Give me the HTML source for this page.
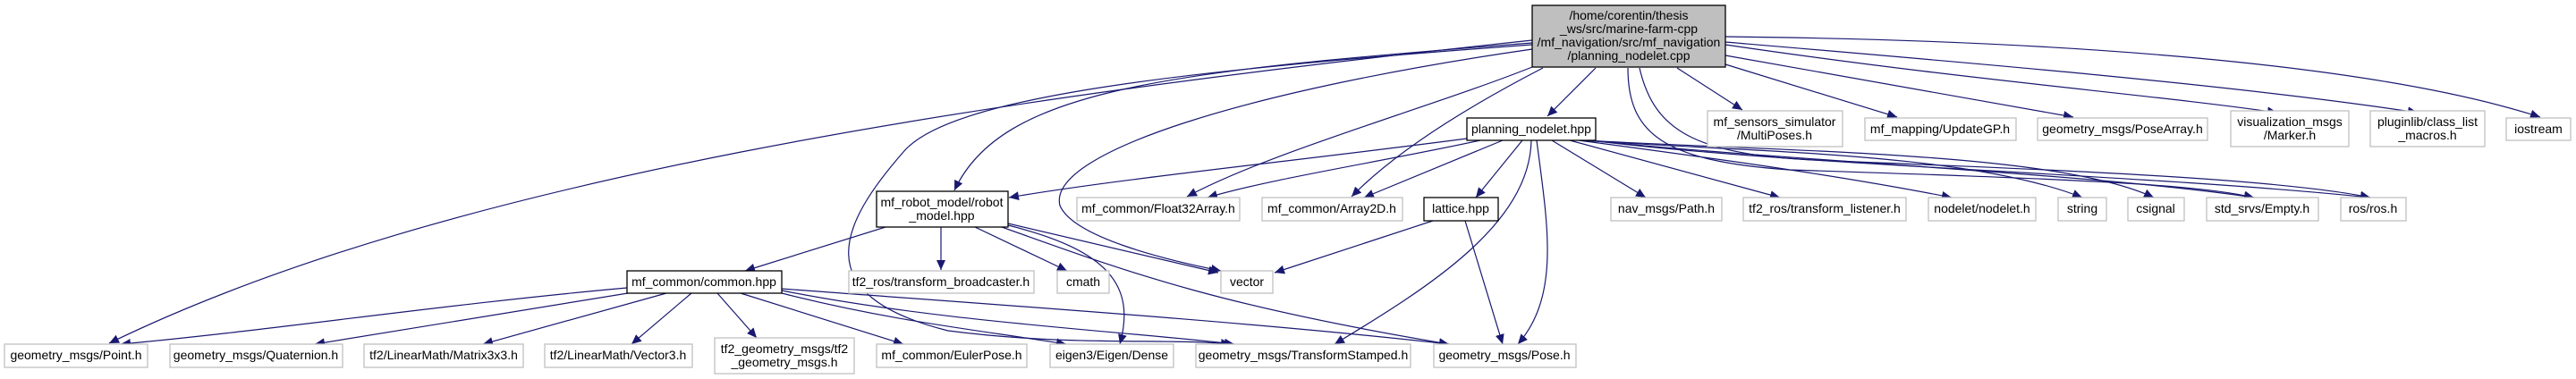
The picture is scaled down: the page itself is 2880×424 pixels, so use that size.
<!DOCTYPE html>
<html><head><meta charset="utf-8"><style>
html,body{margin:0;padding:0;background:#fff}
svg{display:block}
text{font-family:"Liberation Sans",sans-serif;font-size:14px;fill:#000;text-anchor:middle}
.g{fill:#fff;stroke:#c0c0c0;stroke-width:1.3}
.b{fill:#fff;stroke:#000;stroke-width:1.3}
.e{fill:none;stroke:#191970;stroke-width:1.2}
</style></head><body>
<svg width="2880" height="424" viewBox="0 0 2880 424" xmlns="http://www.w3.org/2000/svg">
<defs><marker id="a" markerUnits="userSpaceOnUse" markerWidth="12" markerHeight="10" refX="11" refY="5" orient="auto"><path d="M0,0 L11,5 L0,10 z" fill="#191970"/></marker></defs>
<g class="e" marker-end="url(#a)">
<path d="M1713,45 C1100,110 500,200 122,384"/>
<path d="M1713,48 C1300,80 1120,100 1067,213"/>
<path d="M1713,50 C1300,80 1060,110 1010,170 C940,250 900,330 1060,370 C1200,388 1300,378 1376,385"/>
<path d="M1713,55 C1400,100 1170,170 1185,230 C1200,265 1300,290 1365,303"/>
<path d="M1713,75 C1600,120 1420,170 1327,220"/>
<path d="M1725,76 C1640,120 1560,170 1511,220"/>
<path d="M1784,76 L1730,130"/>
<path d="M1820,76 C1820,150 1860,180 2000,190 C2300,200 2450,205 2520,221"/>
<path d="M1833,76 C1850,150 1900,175 2050,180 C2300,190 2550,200 2650,221"/>
<path d="M1875,76 L1948,123"/>
<path d="M1929,72 L2121,131"/>
<path d="M1929,62 L2318,131"/>
<path d="M1929,50 C2200,90 2400,105 2546,126"/>
<path d="M1929,47 C2200,70 2500,95 2703,126"/>
<path d="M1929,41 C2300,45 2650,70 2840,131"/>
<path d="M1640,155 C1450,180 1250,200 1128,221"/>
<path d="M1655,157 C1550,180 1420,200 1350,221"/>
<path d="M1680,157 L1525,221"/>
<path d="M1702,157 L1650,221"/>
<path d="M1712,157 C1710,250 1600,320 1492,385"/>
<path d="M1718,157 C1730,250 1745,330 1697,385"/>
<path d="M1735,157 L1840,221"/>
<path d="M1755,157 L1990,221"/>
<path d="M1765,157 C1900,175 2050,195 2182,221"/>
<path d="M1768,157 C1950,170 2200,170 2328,221"/>
<path d="M1772,157 C2000,170 2300,170 2408,221"/>
<path d="M1775,157 C2000,180 2350,195 2520,221"/>
<path d="M1778,157 C2000,185 2400,195 2650,221"/>
<path d="M990,254 L833,303"/>
<path d="M1052,254 L1052,302"/>
<path d="M1090,254 L1193,303"/>
<path d="M1127,250 L1362,305"/>
<path d="M1127,252 C1240,280 1270,320 1252,385"/>
<path d="M1120,254 C1250,300 1350,340 1620,385"/>
<path d="M1602,247 L1425,305"/>
<path d="M1638,247 L1680,385"/>
<path d="M701,322 C500,340 300,370 135,385"/>
<path d="M702,328 L352,385"/>
<path d="M745,328 L540,385"/>
<path d="M773,328 L706,385"/>
<path d="M802,328 L846,378"/>
<path d="M828,328 L1010,385"/>
<path d="M874,328 C1000,360 1100,370 1192,385"/>
<path d="M874,325 C1050,360 1250,370 1380,385"/>
<path d="M874,323 C1100,340 1400,360 1620,385"/>
</g>
<rect x="1713" y="6" width="216" height="69" fill="#bfbfbf" stroke="#000" stroke-width="1.3"/>
<text x="1821" y="22">/home/corentin/thesis</text>
<text x="1821" y="37">_ws/src/marine-farm-cpp</text>
<text x="1821" y="52">/mf_navigation/src/mf_navigation</text>
<text x="1821" y="67">/planning_nodelet.cpp</text>

<rect class="b" x="1640" y="132" width="144" height="25"/><text x="1712" y="149">planning_nodelet.hpp</text>
<rect class="g" x="1909" y="124" width="151" height="40"/><text x="1984" y="141">mf_sensors_simulator</text><text x="1984" y="156">/MultiPoses.h</text>
<rect class="g" x="2085" y="132" width="169" height="25"/><text x="2169" y="149">mf_mapping/UpdateGP.h</text>
<rect class="g" x="2278" y="132" width="190" height="25"/><text x="2373" y="149">geometry_msgs/PoseArray.h</text>
<rect class="g" x="2494" y="124" width="132" height="40"/><text x="2560" y="141">visualization_msgs</text><text x="2560" y="156">/Marker.h</text>
<rect class="g" x="2650" y="124" width="128" height="40"/><text x="2714" y="141">pluginlib/class_list</text><text x="2714" y="156">_macros.h</text>
<rect class="g" x="2802" y="132" width="72" height="25"/><text x="2838" y="149">iostream</text>

<rect class="b" x="980" y="214" width="147" height="40"/><text x="1053" y="231">mf_robot_model/robot</text><text x="1053" y="246">_model.hpp</text>
<rect class="g" x="1204" y="221" width="182" height="26"/><text x="1295" y="238">mf_common/Float32Array.h</text>
<rect class="g" x="1411" y="221" width="157" height="26"/><text x="1489" y="238">mf_common/Array2D.h</text>
<rect class="b" x="1592" y="221" width="83" height="26"/><text x="1633" y="238">lattice.hpp</text>
<rect class="g" x="1801" y="221" width="124" height="26"/><text x="1863" y="238">nav_msgs/Path.h</text>
<rect class="g" x="1949" y="221" width="182" height="26"/><text x="2040" y="238">tf2_ros/transform_listener.h</text>
<rect class="g" x="2156" y="221" width="120" height="26"/><text x="2216" y="238">nodelet/nodelet.h</text>
<rect class="g" x="2301" y="221" width="54" height="26"/><text x="2328" y="238">string</text>
<rect class="g" x="2379" y="221" width="63" height="26"/><text x="2410" y="238">csignal</text>
<rect class="g" x="2467" y="221" width="125" height="26"/><text x="2529" y="238">std_srvs/Empty.h</text>
<rect class="g" x="2617" y="221" width="73" height="26"/><text x="2653" y="238">ros/ros.h</text>

<rect class="b" x="701" y="303" width="173" height="25"/><text x="787" y="320">mf_common/common.hpp</text>
<rect class="g" x="949" y="303" width="207" height="25"/><text x="1052" y="320">tf2_ros/transform_broadcaster.h</text>
<rect class="g" x="1182" y="303" width="58" height="25"/><text x="1211" y="320">cmath</text>
<rect class="g" x="1365" y="303" width="58" height="25"/><text x="1394" y="320">vector</text>

<rect class="g" x="5" y="385" width="160" height="26"/><text x="85" y="402">geometry_msgs/Point.h</text>
<rect class="g" x="190" y="385" width="193" height="26"/><text x="286" y="402">geometry_msgs/Quaternion.h</text>
<rect class="g" x="407" y="385" width="178" height="26"/><text x="496" y="402">tf2/LinearMath/Matrix3x3.h</text>
<rect class="g" x="609" y="385" width="165" height="26"/><text x="691" y="402">tf2/LinearMath/Vector3.h</text>
<rect class="g" x="799" y="378" width="156" height="40"/><text x="877" y="395">tf2_geometry_msgs/tf2</text><text x="877" y="410">_geometry_msgs.h</text>
<rect class="g" x="980" y="385" width="168" height="26"/><text x="1064" y="402">mf_common/EulerPose.h</text>
<rect class="g" x="1174" y="385" width="138" height="26"/><text x="1243" y="402">eigen3/Eigen/Dense</text>
<rect class="g" x="1337" y="385" width="240" height="26"/><text x="1457" y="402">geometry_msgs/TransformStamped.h</text>
<rect class="g" x="1603" y="385" width="159" height="26"/><text x="1682" y="402">geometry_msgs/Pose.h</text>
</svg>
</body></html>
